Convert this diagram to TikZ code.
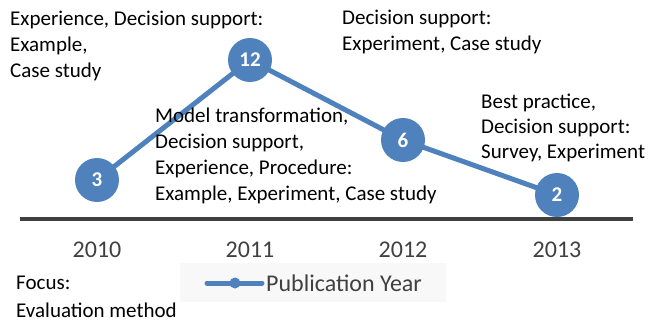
\documentclass[tikz,border=0pt]{standalone}
\usepackage{fontspec}
\setmainfont{Carlito}
\definecolor{serblue}{RGB}{79,129,189}
\definecolor{axgray}{RGB}{64,64,64}
\definecolor{legbg}{RGB}{248,248,248}
\begin{document}
\begin{tikzpicture}[x=1pt,y=-1pt,
  lbl/.style={anchor=base west,inner sep=0pt,align=left,font=\fontsize{21}{26}\selectfont,text=black},
  yearlbl/.style={anchor=base,inner sep=0pt,font=\fontsize{24}{28}\selectfont,text=axgray},
  pt/.style={circle,fill=serblue,minimum size=44pt,inner sep=0pt,text=white,font=\bfseries\fontsize{21}{24}\selectfont},
  series/.style={draw=serblue,line width=5pt,line join=round}]
\useasboundingbox (0,0) rectangle (649,324);
% axis
\coordinate (axl) at (20,218.5);
\coordinate (axr) at (633,218.5);
\draw[axgray,line width=4pt] (axl) -- (axr);
% series
\coordinate (c3) at (97,180);
\coordinate (c12) at (250,60);
\coordinate (c6) at (403,140);
\coordinate (c2) at (557,195);
\draw[series] (c3) -- (c12) -- (c6) -- (c2);
\node[pt] (n3) at (c3) {3};
\node[pt] (n12) at (c12) {12};
\node[pt] (n6) at (c6) {6};
\node[pt] (n2) at (c2) {2};
% years
\node[yearlbl] (y10) at (97,257) {2010};
\node[yearlbl] (y11) at (250,257) {2011};
\node[yearlbl] (y12) at (403,257) {2012};
\node[yearlbl] (y13) at (557,257) {2013};
% annotations (base anchor = last line)
\node[lbl] (t1) at (10,77) {Experience, Decision support:\\Example,\\Case study};
\node[lbl] (t2) at (342,50) {Decision support:\\Experiment, Case study};
\node[lbl] (t3) at (155,200) {Model transformation,\\Decision support,\\Experience, Procedure:\\Example, Experiment, Case study};
\node[lbl,font=\fontsize{21}{25}\selectfont] (t4) at (481,158) {Best practice,\\Decision support:\\Survey, Experiment};
\node[lbl,font=\fontsize{21}{28}\selectfont] (t5) at (16,317) {Focus:\\Evaluation method};
% legend
\node[fill=legbg,minimum width=266pt,minimum height=39pt,inner sep=0pt] (leg) at (313,282.5) {};
\coordinate (la) at (207,283);
\coordinate (lb) at (262,283);
\draw[serblue,line width=5pt,line cap=round] (la) -- (lb);
\node[circle,fill=serblue,minimum size=11pt,inner sep=0pt] (lm) at (235,283) {};
\node[anchor=base west,inner sep=0pt,font=\fontsize{24}{28}\selectfont,text=axgray] (legt) at (266,291) {Publication Year};
\end{tikzpicture}
\end{document}
